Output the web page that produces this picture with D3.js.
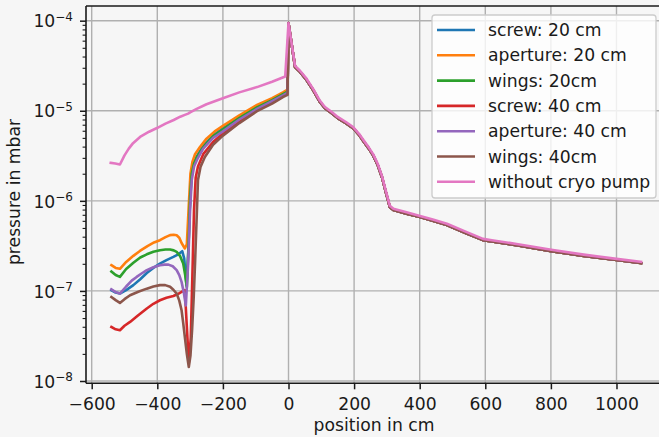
<!DOCTYPE html>
<html>
<head>
<meta charset="utf-8">
<script src="https://cdn.jsdelivr.net/npm/d3@7"></script>
<style>
  body { margin: 0; background: #f6f6f6; }
  svg text { font-family: "DejaVu Sans", sans-serif; fill: #1a1a1a; }
</style>
</head>
<body>
<svg id="chart" width="659" height="437"></svg>
<script>
// Pressure profiles along the beamline: [position in cm, pressure in mbar]
const screw20 = [[-540,1.02e-7],[-527,9.6e-8],[-514,9.35e-8],[-495,1.02e-7],[-473,1.16e-7],[-452,1.35e-7],[-432,1.58e-7],[-412,1.8e-7],[-392,2.01e-7],[-372,2.2e-7],[-351,2.39e-7],[-336,2.55e-7],[-324,2.76e-7],[-318,2.3e-7],[-311,1.15e-7],[-306,2.5e-7],[-301,8e-7],[-296,1.8e-6],[-290,2.5e-6],[-280,3.1e-6],[-260,4.1e-6],[-230,5.3e-6],[-200,6.4e-6],[-150,8.5e-6],[-96,1.11e-5],[-50,1.33e-5],[-17,1.55e-5],[-3,1.65e-5]];
const aperture20 = [[-540,1.93e-7],[-527,1.8e-7],[-514,1.76e-7],[-495,2.1e-7],[-473,2.45e-7],[-453,2.78e-7],[-430,3.15e-7],[-410,3.45e-7],[-392,3.66e-7],[-375,3.95e-7],[-361,4.16e-7],[-350,4.2e-7],[-341,4.15e-7],[-333,3.9e-7],[-326,3.4e-7],[-316,2.96e-7],[-310,3.3e-7],[-304,9e-7],[-299,2.0e-6],[-293,2.7e-6],[-285,3.3e-6],[-270,3.95e-6],[-250,4.9e-6],[-225,5.9e-6],[-200,6.8e-6],[-150,8.9e-6],[-96,1.16e-5],[-50,1.38e-5],[-17,1.6e-5],[-3,1.72e-5]];
const wings20 = [[-540,1.64e-7],[-527,1.5e-7],[-514,1.43e-7],[-495,1.75e-7],[-473,2.05e-7],[-452,2.35e-7],[-432,2.55e-7],[-412,2.72e-7],[-392,2.83e-7],[-375,2.88e-7],[-361,2.88e-7],[-350,2.82e-7],[-341,2.71e-7],[-331,2.45e-7],[-321,2.01e-7],[-315,1.5e-7],[-310,1.1e-7],[-305,3e-7],[-300,1.1e-6],[-295,2.0e-6],[-288,2.6e-6],[-278,3.1e-6],[-258,4.0e-6],[-230,5.2e-6],[-200,6.2e-6],[-150,8.3e-6],[-96,1.09e-5],[-50,1.31e-5],[-17,1.53e-5],[-3,1.63e-5]];
const screw40 = [[-540,3.98e-8],[-527,3.75e-8],[-514,3.66e-8],[-500,4.1e-8],[-483,4.53e-8],[-460,5.3e-8],[-432,6.37e-8],[-412,7.2e-8],[-392,7.88e-8],[-372,8.4e-8],[-351,8.79e-8],[-336,9.3e-8],[-326,9.75e-8],[-316,1.02e-7],[-310,4e-8],[-304,1.6e-8],[-298,3e-8],[-293,1.5e-7],[-288,8e-7],[-283,1.8e-6],[-276,2.4e-6],[-260,3.3e-6],[-230,4.5e-6],[-200,5.6e-6],[-150,7.6e-6],[-96,1.02e-5],[-50,1.24e-5],[-17,1.46e-5],[-3,1.55e-5]];
const aperture40 = [[-540,1.04e-7],[-527,9.7e-8],[-514,9.35e-8],[-495,1.12e-7],[-478,1.3e-7],[-463,1.43e-7],[-448,1.56e-7],[-432,1.7e-7],[-412,1.83e-7],[-392,1.93e-7],[-378,1.96e-7],[-366,1.96e-7],[-353,1.88e-7],[-341,1.7e-7],[-333,1.5e-7],[-326,1.26e-7],[-319,9.5e-8],[-313,6.9e-8],[-306,2e-7],[-300,8e-7],[-295,1.7e-6],[-288,2.4e-6],[-278,2.9e-6],[-260,3.8e-6],[-230,5.0e-6],[-200,5.9e-6],[-150,8.0e-6],[-96,1.05e-5],[-50,1.28e-5],[-17,1.48e-5],[-3,1.58e-5]];
const wings40 = [[-540,8.57e-8],[-527,7.9e-8],[-514,7.36e-8],[-500,8.1e-8],[-483,8.95e-8],[-458,9.8e-8],[-432,1.06e-7],[-412,1.12e-7],[-392,1.16e-7],[-376,1.16e-7],[-361,1.11e-7],[-351,1.03e-7],[-341,9.35e-8],[-333,7.8e-8],[-326,6.1e-8],[-321,4.4e-8],[-316,3.08e-8],[-310,2.0e-8],[-304,1.43e-8],[-299,1.9e-8],[-294,3.66e-8],[-289,8.5e-8],[-285,2.01e-7],[-280,6.5e-7],[-276,1.7e-6],[-268,2.4e-6],[-255,3.06e-6],[-230,4.2e-6],[-200,5.3e-6],[-150,7.3e-6],[-96,9.9e-6],[-50,1.2e-5],[-17,1.42e-5],[-3,1.5e-5]];
const withoutCryo = [[-542,2.64e-6],[-528,2.6e-6],[-514,2.53e-6],[-500,3.2e-6],[-487,3.8e-6],[-474,4.37e-6],[-450,5.2e-6],[-425,5.85e-6],[-401,6.43e-6],[-375,7.2e-6],[-350,7.9e-6],[-330,8.6e-6],[-316,9.0e-6],[-306,9.3e-6],[-300,9.6e-6],[-280,1.05e-5],[-250,1.18e-5],[-200,1.38e-5],[-150,1.6e-5],[-96,1.83e-5],[-50,2.1e-5],[-10,2.4e-5]];
// Downstream of the source all configurations share one profile
const downstream = [[0,9.4e-5],[20,3.06e-5],[35,2.7e-5],[55,2.2e-5],[75,1.7e-5],[96,1.25e-5],[111,1.07e-5],[130,9.5e-6],[150,8.3e-6],[175,7.3e-6],[197,6.4e-6],[215,5.4e-6],[230,4.5e-6],[245,3.8e-6],[258,3.2e-6],[272,2.5e-6],[285,1.83e-6],[298,1.2e-6],[309,8.5e-7],[320,7.9e-7],[331,7.7e-7],[360,7.2e-7],[401,6.6e-7],[440,6.0e-7],[483,5.4e-7],[540,4.4e-7],[593,3.66e-7],[620,3.55e-7],[700,3.2e-7],[806,2.75e-7],[900,2.45e-7],[1000,2.2e-7],[1075,2.04e-7]];
const downstreamNoCryo = [[0,9.4e-5],[20,3.15e-5],[35,2.78e-5],[55,2.27e-5],[75,1.75e-5],[96,1.29e-5],[111,1.1e-5],[130,9.8e-6],[150,8.55e-6],[175,7.5e-6],[197,6.6e-6],[215,5.55e-6],[230,4.65e-6],[245,3.9e-6],[258,3.3e-6],[272,2.58e-6],[285,1.88e-6],[298,1.24e-6],[309,8.8e-7],[320,8.15e-7],[331,7.95e-7],[360,7.45e-7],[401,6.8e-7],[440,6.2e-7],[483,5.57e-7],[540,4.55e-7],[593,3.78e-7],[620,3.66e-7],[700,3.3e-7],[806,2.84e-7],[900,2.53e-7],[1000,2.27e-7],[1075,2.1e-7]];

const seriesNames = ["screw: 20 cm", "aperture: 20 cm", "wings: 20cm", "screw: 40 cm", "aperture: 40 cm", "wings: 40cm", "without cryo pump"];
const seriesColors = ["#1f77b4", "#ff7f0e", "#2ca02c", "#d62728", "#9467bd", "#8c564b", "#e377c2"];
const seriesData = [
  screw20.concat(downstream), aperture20.concat(downstream), wings20.concat(downstream),
  screw40.concat(downstream), aperture40.concat(downstream), wings40.concat(downstream),
  withoutCryo.concat(downstreamNoCryo)
];

const xTicks = [-600, -400, -200, 0, 200, 400, 600, 800, 1000];
const xTickLabels = ["\u2212600", "\u2212400", "\u2212200", "0", "200", "400", "600", "800", "1000"];
const yExponents = [-8, -7, -6, -5, -4];
const yExponentLabels = ["\u22128", "\u22127", "\u22126", "\u22125", "\u22124"];

const plot = { left: 86, right: 669, top: 6, bottom: 383.3 };
const fontSize = 17.2;

const svg = d3.select("#chart");
svg.append("rect").attr("width", 659).attr("height", 437).attr("fill", "#f6f6f6");

const x = d3.scaleLinear().domain([-617.4, 1160.1]).range([plot.left, plot.right]);
const y = d3.scaleLog().domain([Math.pow(10, -3.837), Math.pow(10, -8.0255)]).range([plot.top, plot.bottom]);

svg.append("clipPath").attr("id", "plotClip")
  .append("rect").attr("x", plot.left).attr("y", plot.top)
  .attr("width", plot.right - plot.left).attr("height", plot.bottom - plot.top);

// grid
const grid = svg.append("g").attr("stroke", "#b0b0b0").attr("stroke-width", 1.4);
grid.selectAll("line.gx").data(xTicks).join("line")
  .attr("x1", d => x(d)).attr("x2", d => x(d)).attr("y1", plot.top).attr("y2", plot.bottom);
grid.selectAll("line.gy").data(yExponents).join("line")
  .attr("x1", plot.left).attr("x2", plot.right)
  .attr("y1", d => y(Math.pow(10, d))).attr("y2", d => y(Math.pow(10, d)));

// curves
const line = d3.line().x(d => x(d[0])).y(d => y(d[1]));
const curves = svg.append("g").attr("clip-path", "url(#plotClip)");
seriesData.forEach((data, i) => {
  curves.append("path").datum(data)
    .attr("fill", "none").attr("stroke", seriesColors[i]).attr("stroke-width", 2.6)
    .attr("stroke-linejoin", "round").attr("stroke-linecap", "square")
    .attr("d", line);
});

// x axis
const xAxis = d3.axisBottom(x).tickValues(xTicks).tickSize(6).tickPadding(8)
  .tickFormat((d, i) => xTickLabels[i]);
const gx = svg.append("g").attr("transform", `translate(0,${plot.bottom})`).call(xAxis);
gx.select(".domain").remove();
gx.selectAll(".tick line").attr("stroke", "#1a1a1a").attr("stroke-width", 1.5);
gx.selectAll(".tick text").attr("font-size", fontSize).attr("font-family", "DejaVu Sans").attr("fill", "#1a1a1a");

// y axis: major ticks with power-of-ten labels, minor ticks between
const yMinor = [];
for (let e = -9; e <= -4; e++) for (let m = 2; m <= 9; m++) {
  const v = m * Math.pow(10, e);
  if (v >= y.domain()[1] && v <= y.domain()[0]) yMinor.push(v);
}
const gyMinor = svg.append("g").attr("transform", `translate(${plot.left},0)`)
  .call(d3.axisLeft(y).tickValues(yMinor).tickSize(3.4).tickFormat(""));
gyMinor.select(".domain").remove();
gyMinor.selectAll(".tick line").attr("stroke", "#1a1a1a").attr("stroke-width", 1.1);

const gy = svg.append("g").attr("transform", `translate(${plot.left},0)`)
  .call(d3.axisLeft(y).tickValues(yExponents.map(e => Math.pow(10, e))).tickSize(6).tickPadding(8).tickFormat(""));
gy.select(".domain").remove();
gy.selectAll(".tick line").attr("stroke", "#1a1a1a").attr("stroke-width", 1.5);
gy.selectAll(".tick text").each(function(d, i) {
  const t = d3.select(this).attr("font-size", fontSize).attr("font-family", "DejaVu Sans")
    .attr("fill", "#1a1a1a").attr("dy", "0.36em").attr("text-anchor", "end").attr("x", -13);
  t.append("tspan").text("10");
  t.append("tspan").attr("font-size", fontSize * 0.7).attr("dy", -6.8).text(yExponentLabels[i]);
});

// spines
const spines = svg.append("g").attr("stroke", "#1a1a1a").attr("stroke-width", 1.6).attr("fill", "none");
spines.append("line").attr("x1", plot.left).attr("x2", plot.left).attr("y1", plot.top).attr("y2", plot.bottom);
spines.append("line").attr("x1", plot.left).attr("x2", plot.right).attr("y1", plot.bottom).attr("y2", plot.bottom);
spines.append("line").attr("x1", plot.left).attr("x2", plot.right).attr("y1", plot.top).attr("y2", plot.top);

// axis labels
svg.append("text").attr("x", 374).attr("y", 431).attr("text-anchor", "middle")
  .attr("font-size", fontSize).text("position in cm");
svg.append("text").attr("transform", "translate(20,192) rotate(-90)").attr("text-anchor", "middle")
  .attr("font-size", fontSize).text("pressure in mbar");

// legend
const legend = svg.append("g");
legend.append("rect").attr("x", 432).attr("y", 15).attr("width", 224).attr("height", 183).attr("rx", 3)
  .attr("fill", "#ffffff").attr("fill-opacity", 0.8).attr("stroke", "#cccccc").attr("stroke-width", 1.3);
seriesNames.forEach((name, i) => {
  const ry = 30 + i * 25.3;
  legend.append("line").attr("x1", 437).attr("x2", 475).attr("y1", ry).attr("y2", ry)
    .attr("stroke", seriesColors[i]).attr("stroke-width", 2.6);
  legend.append("text").attr("x", 488).attr("y", ry).attr("dy", "0.36em")
    .attr("font-size", fontSize).text(name);
});
</script>
</body>
</html>
